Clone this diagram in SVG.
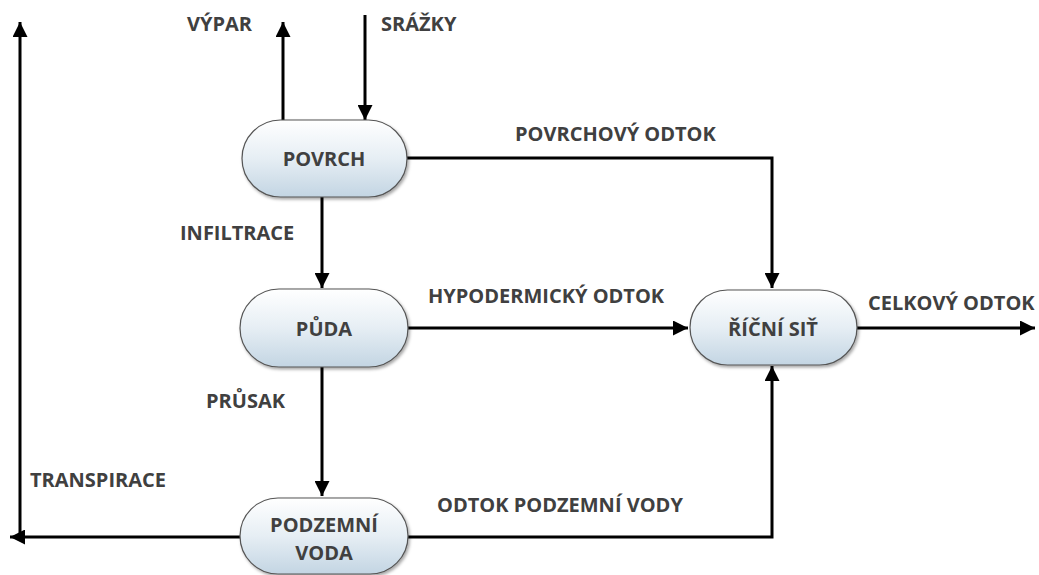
<svg xmlns="http://www.w3.org/2000/svg" width="1039" height="575" viewBox="0 0 1039 575">
<defs>
<linearGradient id="g" x1="0" y1="0" x2="0" y2="1">
<stop offset="0" stop-color="#ffffff"/>
<stop offset="0.5" stop-color="#e6eef4"/>
<stop offset="1" stop-color="#c3d5e3"/>
</linearGradient>
<filter id="sh" x="-10%" y="-10%" width="130%" height="130%">
<feDropShadow dx="1.5" dy="2" stdDeviation="1.5" flood-color="#000" flood-opacity="0.35"/>
</filter>
<marker id="ah" viewBox="0 0 10 10" refX="10" refY="5" markerWidth="5" markerHeight="5" markerUnits="strokeWidth" orient="auto">
<path d="M0,0 L10,5 L0,10 z" fill="#000"/>
</marker>
</defs>
<style>
.n{fill:url(#g);stroke:#555;stroke-width:1.2;filter:url(#sh)}
.t{font-family:"Open Sans","DejaVu Sans",sans-serif;font-weight:bold;font-size:20px;fill:#404040}
.nt{font-family:"Open Sans","DejaVu Sans",sans-serif;font-weight:bold;font-size:20px;fill:#404040;text-anchor:middle}
.c{fill:none;stroke:#000;stroke-width:3}
.a{marker-end:url(#ah)}
</style>
<rect width="1039" height="575" fill="#fff"/>
<g id="connectors">
<path class="c a" d="M283,120 V22"/>
<path class="c a" d="M365,15 V120"/>
<path class="c a" d="M407,158 H772 V288"/>
<path class="c a" d="M322,197 V288"/>
<path class="c a" d="M408,328 H688"/>
<path class="c a" d="M322,367 V496"/>
<path class="c a" d="M408,537 H772 V366"/>
<path class="c a" d="M857,328 H1035"/>
<path class="c a" d="M240,537 H10"/>
<path class="c a" d="M20,540 V22"/>
<text class="t" x="187" y="31">VÝPAR</text>
<text class="t" x="381" y="31">SRÁŽKY</text>
<text class="t" x="515" y="141">POVRCHOVÝ ODTOK</text>
<text class="t" x="180" y="240">INFILTRACE</text>
<text class="t" x="428" y="303">HYPODERMICKÝ ODTOK</text>
<text class="t" x="868" y="310">CELKOVÝ ODTOK</text>
<text class="t" x="206" y="408">PRŮSAK</text>
<text class="t" x="30" y="487">TRANSPIRACE</text>
<text class="t" x="437" y="512">ODTOK PODZEMNÍ VODY</text>
</g>
<g id="povrch">
<rect class="n" x="242" y="120" width="165" height="77" rx="38.5"/>
<text class="nt" x="324" y="166">POVRCH</text>
</g>
<g id="puda">
<rect class="n" x="240" y="289" width="168" height="78" rx="39"/>
<text class="nt" x="324" y="336">PŮDA</text>
</g>
<g id="ricni-sit">
<rect class="n" x="690" y="290" width="167" height="75" rx="37.5"/>
<text class="nt" x="773" y="336">ŘÍČNÍ SIŤ</text>
</g>
<g id="podzemni-voda">
<rect class="n" x="240" y="498" width="168" height="76" rx="38"/>
<text class="nt" x="324" y="532">PODZEMNÍ</text>
<text class="nt" x="324" y="560">VODA</text>
</g>
</svg>
